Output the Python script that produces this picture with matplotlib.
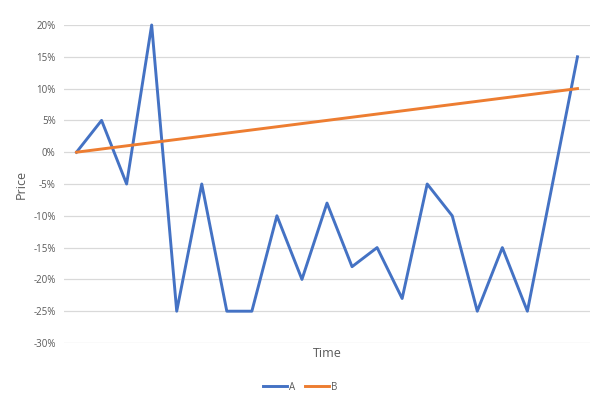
import matplotlib
matplotlib.use("Agg")
import matplotlib.pyplot as plt
from matplotlib.ticker import FuncFormatter

series_a = [0, 5, -5, 20, -25, -5, -25, -25, -10, -20, -8, -18, -15, -23, -5, -10, -25, -15, -25, -5, 15]
series_b = [0, 0.5, 1, 1.5, 2, 2.5, 3, 3.5, 4, 4.5, 5, 5.5, 6, 6.5, 7, 7.5, 8, 8.5, 9, 9.5, 10]
y_ticks = [-30, -25, -20, -15, -10, -5, 0, 5, 10, 15, 20]

plt.rcParams['font.family'] = ['Open Sans', 'DejaVu Sans']
text_color = '#595959'

fig = plt.figure(figsize=(6, 4), dpi=100)
ax = fig.add_axes([64/600, 57/400, (590-64)/600, (343-25)/400])

x = list(range(len(series_a)))
ax.plot(x, series_a, color='#4472C4', lw=2.1, label='A', clip_on=False)
ax.plot(x, series_b, color='#ED7D31', lw=2.1, label='B', clip_on=False)

ax.set_xlim(-0.5, len(series_a) - 0.5)
ax.set_ylim(-30, 20)
ax.set_yticks(y_ticks)
ax.yaxis.set_major_formatter(FuncFormatter(lambda v, p: f"{int(v)}%"))
ax.set_xticks([])
ax.grid(axis='y', color='#D9D9D9', lw=0.9)
ax.set_axisbelow(True)
for s in ax.spines.values():
    s.set_visible(False)
ax.tick_params(axis='y', length=0, labelsize=7, labelcolor=text_color, pad=6)

ax.set_ylabel('Price', fontsize=9, color=text_color, labelpad=4)
ax.set_xlabel('Time', fontsize=9, color=text_color, labelpad=3)

leg = fig.legend(loc='center', bbox_to_anchor=(0.5, 1 - 387/400), ncol=2, frameon=False,
                 fontsize=7, handlelength=2.5, handletextpad=0.2, columnspacing=1.0)
for t in leg.get_texts():
    t.set_color(text_color)

fig.savefig('out.png', dpi=100, facecolor='white')
